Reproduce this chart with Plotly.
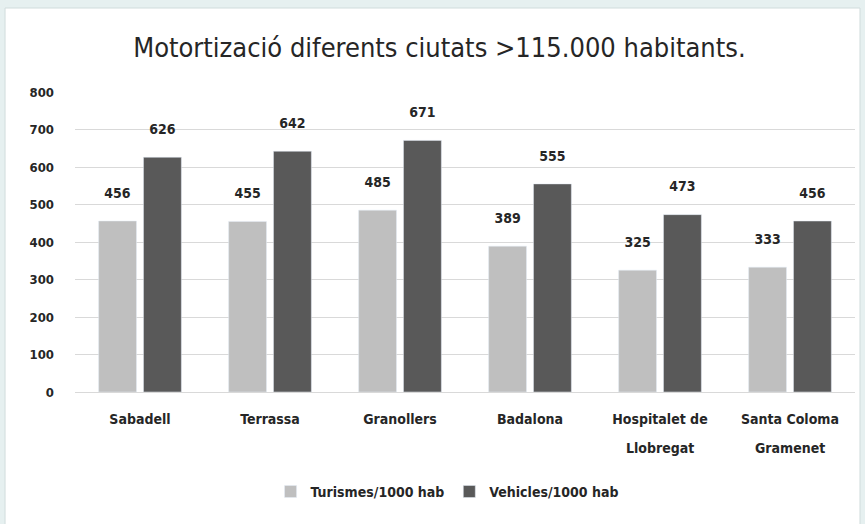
import plotly.graph_objects as go

ciutats = ["Sabadell", "Terrassa", "Granollers", "Badalona", "Hospitalet de Llobregat", "Santa Coloma Gramenet"]
linia1 = ["Sabadell", "Terrassa", "Granollers", "Badalona", "Hospitalet de", "Santa Coloma"]
linia2 = ["", "", "", "", "Llobregat", "Gramenet"]
turismes = [456, 455, 485, 389, 325, 333]
vehicles = [626, 642, 671, 555, 473, 456]
y_ticks = [0, 100, 200, 300, 400, 500, 600, 700, 800]

FONT = "DejaVu Sans Condensed, Liberation Sans Narrow, sans-serif"
LABEL_TPL = "%{y}<br><span style='font-size:7px'> </span>"

fig = go.Figure()
fig.add_trace(go.Bar(x=ciutats, y=turismes, name="Turismes/1000 hab", marker_color="#bfbfbf",
                     texttemplate=LABEL_TPL, textposition="outside", cliponaxis=False,
                     textfont=dict(family=FONT, size=14, color="#262626", weight="bold")))
fig.add_trace(go.Bar(x=ciutats, y=vehicles, name="Vehicles/1000 hab", marker_color="#595959",
                     texttemplate=LABEL_TPL, textposition="outside", cliponaxis=False,
                     textfont=dict(family=FONT, size=14, color="#262626", weight="bold")))

fig.update_layout(
    width=865, height=524,
    margin=dict(l=75, r=10, t=92, b=132),
    paper_bgcolor="#e6f0f0", plot_bgcolor="white",
    barmode="group", bargap=0.31, bargroupgap=0.155,
    title=dict(text="Motortizació diferents ciutats >115.000 habitants.", x=0.508, xanchor="center",
               y=0.91, yanchor="middle",
               font=dict(family=FONT, size=27, color="#262626", weight="normal")),
    font=dict(family=FONT, size=14, color="#262626", weight="bold"),
    legend=dict(orientation="h", x=0.477, xanchor="center", y=-0.333, yanchor="middle",
                font=dict(family=FONT, size=14, color="#262626", weight="bold"),
                bgcolor="rgba(0,0,0,0)", itemwidth=30),
    showlegend=True,
)
fig.add_shape(type="rect", xref="paper", yref="paper", x0=-0.0897, x1=1.0064, y0=-0.46, y1=1.28,
              fillcolor="white", line=dict(width=1, color="#d0dcdc"), layer="below")
for c, t in zip(ciutats, linia2):
    if t:
        fig.add_annotation(x=c, xref="x", y=-0.187, yref="paper", yanchor="middle", text=t,
                           showarrow=False, font=dict(family=FONT, size=14, color="#262626", weight="bold"))
fig.update_yaxes(range=[0, 800], tickvals=y_ticks, showgrid=True, gridcolor="#d9d9d9", gridwidth=1,
                 zeroline=False, showline=False, ticks="", ticklabelstandoff=20,
                 tickfont=dict(family=FONT, size=13, color="#262626", weight="bold"))
fig.update_xaxes(showline=True, linecolor="#d9d9d9", ticks="", tickvals=ciutats, ticktext=linia1,
                 ticklabelstandoff=14,
                 tickfont=dict(family=FONT, size=14, color="#262626", weight="bold"))
fig.write_html("out.html", config={"displayModeBar": False})

with open("out.html", encoding="utf-8") as f:
    html = f.read()
html = html.replace("<body>", "<body style=\"margin:0\">", 1)
with open("out.html", "w", encoding="utf-8") as f:
    f.write(html)
